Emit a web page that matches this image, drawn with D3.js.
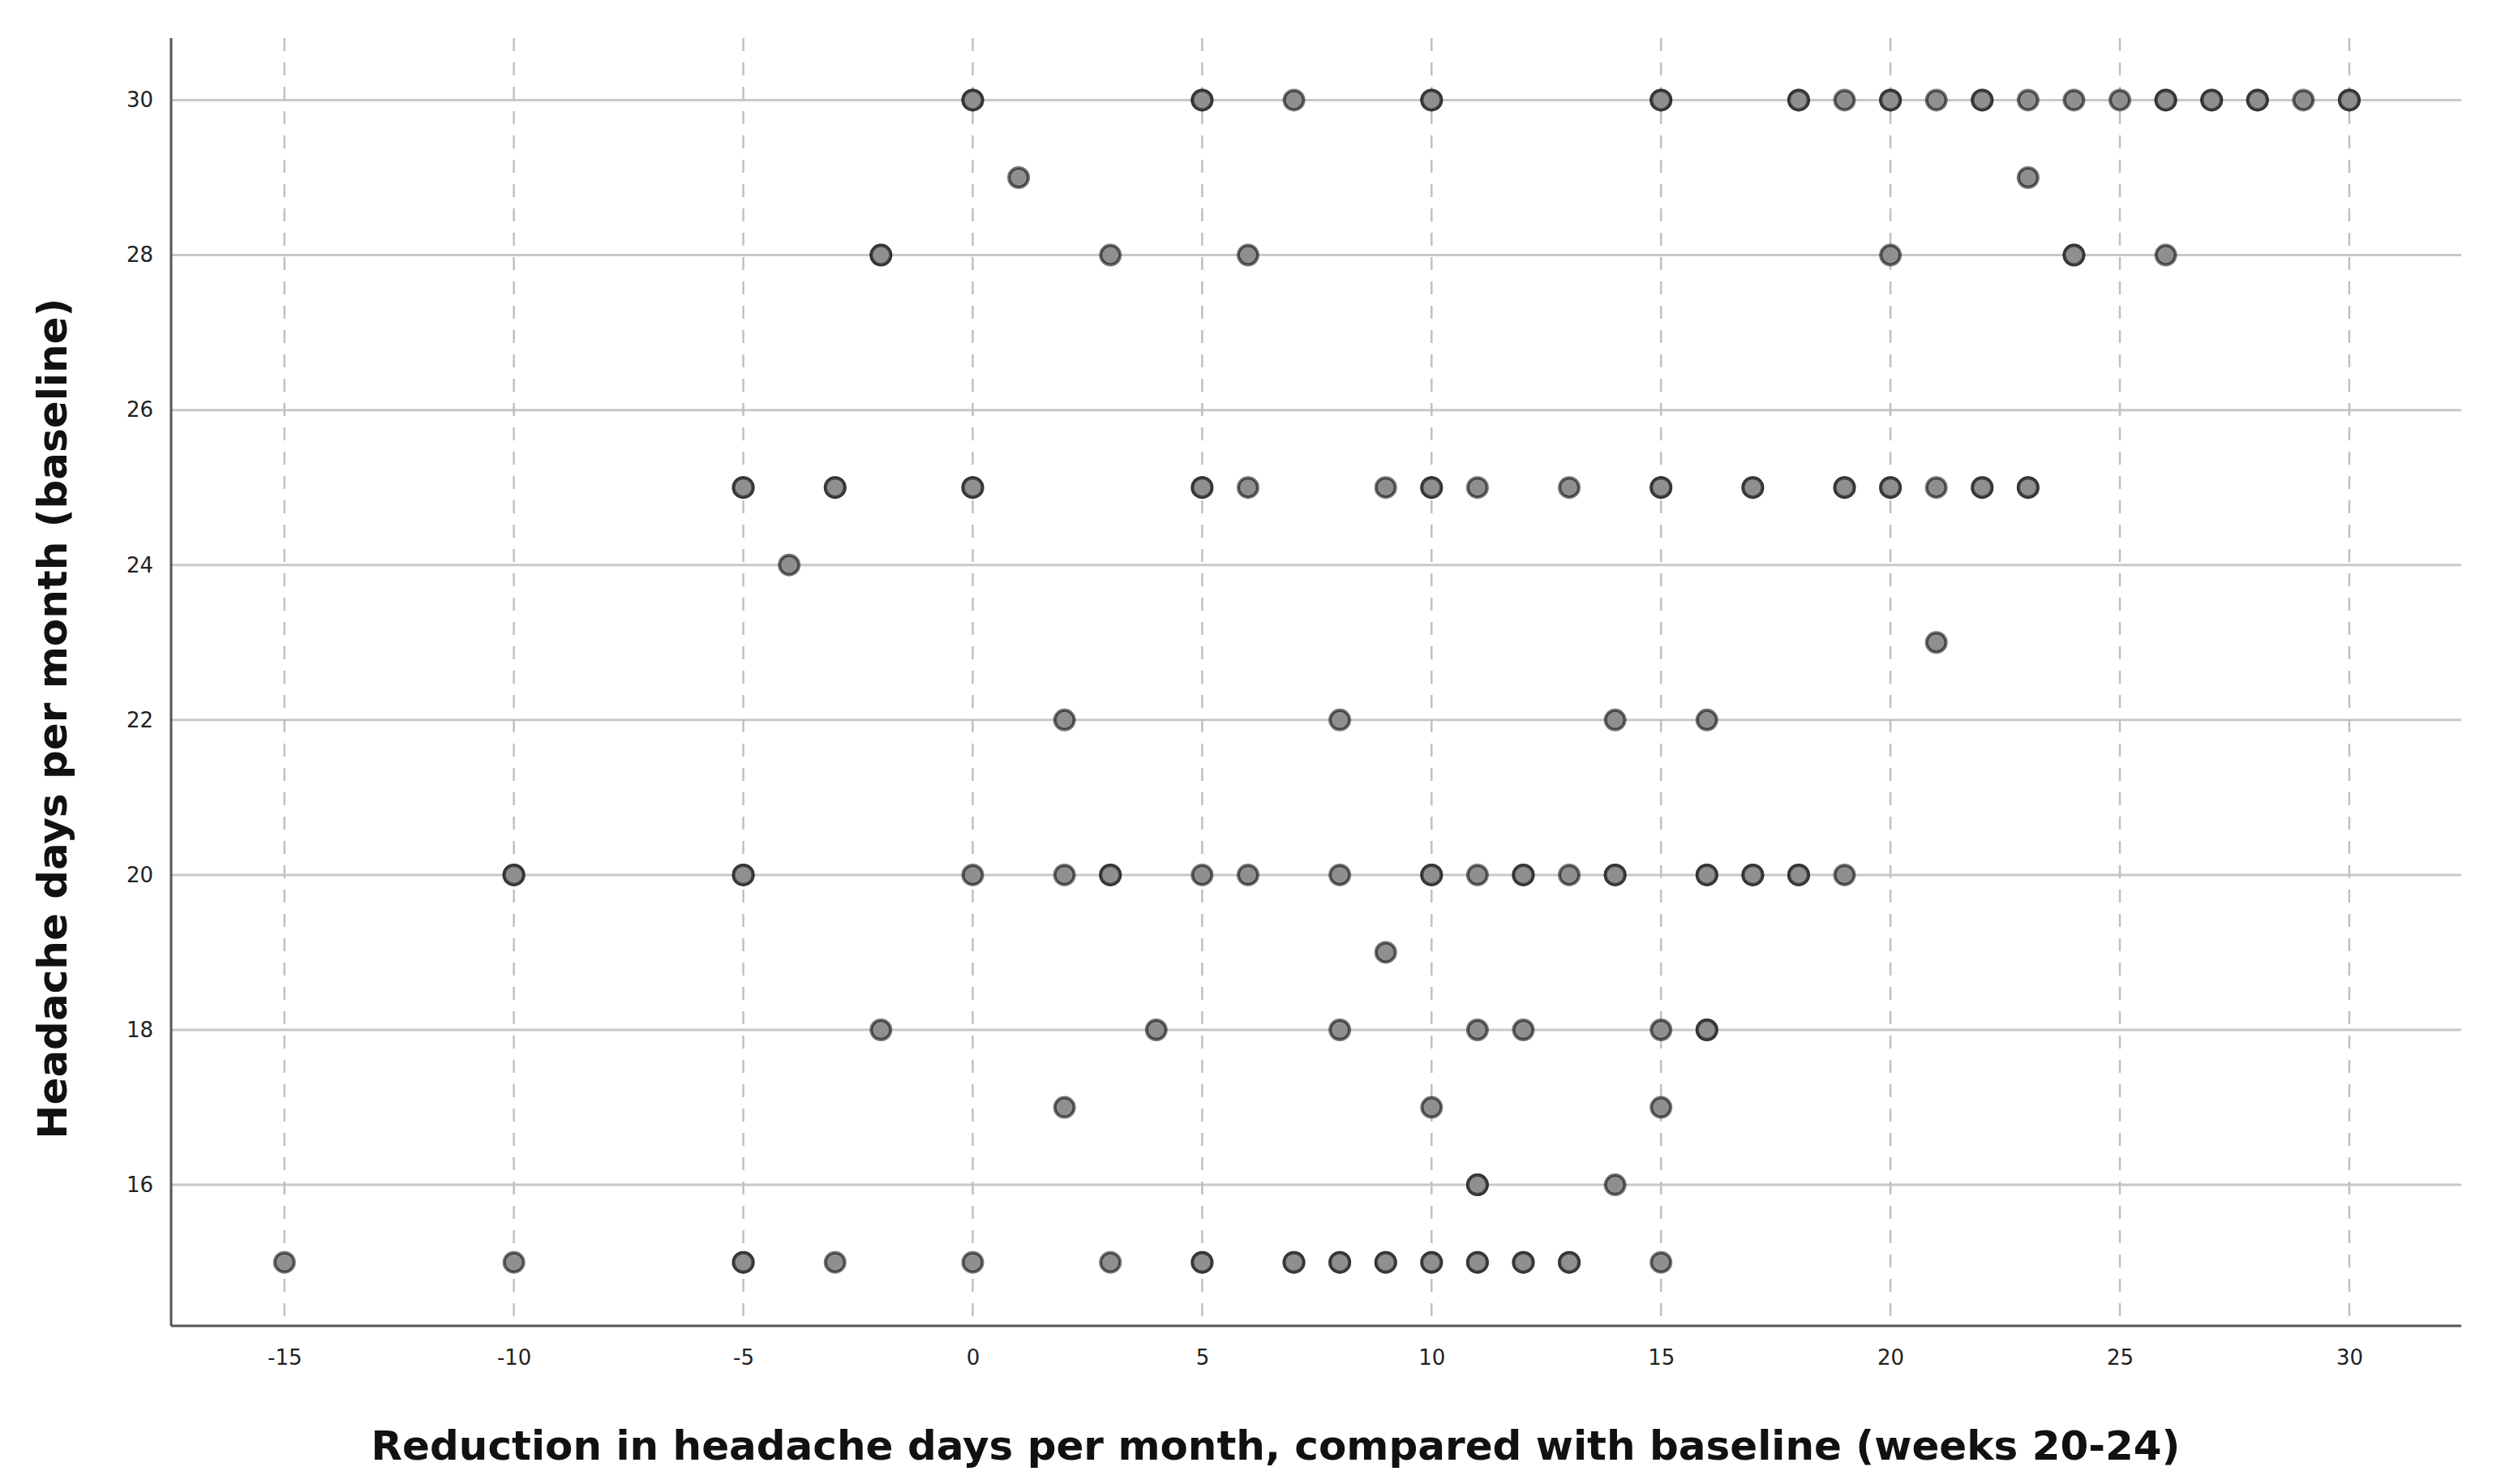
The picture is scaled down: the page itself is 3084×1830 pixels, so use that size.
<!DOCTYPE html>
<html>
<head>
<meta charset="utf-8">
<script src="https://cdn.jsdelivr.net/npm/d3@7"></script>
<style>
  body { margin: 0; background: #fff; }
  text { font-family: "DejaVu Sans", sans-serif; }
</style>
</head>
<body>
<svg id="chart"></svg>
<script>
// rows of baseline headache days, and reductions seen in each row (repeats = overlapping patients)
const rowValues = [30, 29, 28, 25, 24, 23, 22, 20, 19, 18, 17, 16, 15];
const rowReductions = [
  [0, 0, 5, 5, 7, 10, 10, 15, 15, 18, 18, 19, 20, 20, 21, 22, 22, 23, 24, 25, 26, 26, 27, 27, 28, 28, 29, 30, 30],
  [1, 23],
  [-2, -2, 3, 6, 20, 24, 24, 26],
  [-5, -5, -3, -3, 0, 0, 5, 5, 6, 9, 10, 10, 11, 13, 15, 15, 17, 17, 19, 19, 20, 20, 21, 22, 22, 23, 23],
  [-4],
  [21],
  [2, 8, 14, 16],
  [-10, -10, -5, -5, 0, 2, 3, 3, 5, 6, 8, 10, 10, 11, 12, 12, 13, 14, 14, 16, 16, 17, 17, 18, 18, 19],
  [9],
  [-2, 4, 8, 11, 12, 15, 16, 16],
  [2, 10, 15],
  [11, 11, 14],
  [-15, -10, -5, -5, -3, 0, 3, 5, 5, 7, 7, 8, 8, 9, 9, 10, 10, 11, 11, 12, 12, 13, 13, 15]
];
const xTicks = [-15, -10, -5, 0, 5, 10, 15, 20, 25, 30];
const yTicks = [16, 18, 20, 22, 24, 26, 28, 30];

const points = [];
rowValues.forEach((y, i) => rowReductions[i].forEach(x => points.push({ x: x, y: y })));

const width = 3084, height = 1830;
const margin = { left: 211, right: 3035, top: 47, bottom: 1635 };

const svg = d3.select('#chart').attr('width', width).attr('height', height);

const xscale = d3.scaleLinear().domain([-17.47, 32.44]).range([margin.left, margin.right]);
const yscale = d3.scaleLinear().domain([14.18, 30.8]).range([margin.bottom, margin.top]);

// horizontal gridlines
svg.append('g').selectAll('line').data(yTicks).enter().append('line')
  .attr('x1', margin.left).attr('x2', margin.right)
  .attr('y1', d => yscale(d)).attr('y2', d => yscale(d))
  .attr('stroke', '#c8c8c8').attr('stroke-width', 3);

// vertical dashed gridlines
svg.append('g').selectAll('line').data(xTicks).enter().append('line')
  .attr('x1', d => xscale(d)).attr('x2', d => xscale(d))
  .attr('y1', margin.top).attr('y2', margin.bottom)
  .attr('stroke', '#c0c0c0').attr('stroke-width', 2.5)
  .attr('stroke-dasharray', '16,14');

// axes
const xaxis = d3.axisBottom(xscale).tickValues(xTicks).tickSize(0).tickPadding(30)
  .tickFormat(d => d < 0 ? '-' + Math.abs(d) : d);
const yaxis = d3.axisLeft(yscale).tickValues(yTicks).tickSize(0).tickPadding(22);

const gx = svg.append('g').attr('transform', `translate(0, ${margin.bottom})`).call(xaxis);
const gy = svg.append('g').attr('transform', `translate(${margin.left}, 0)`).call(yaxis);
[gx, gy].forEach(g => {
  g.select('.domain').attr('stroke', '#555').attr('stroke-width', 3);
  g.selectAll('text').attr('font-size', 26).attr('fill', '#222');
});
gx.select('.domain').attr('d', `M${margin.left},0H${margin.right}`);
gy.select('.domain').attr('d', `M0,${margin.bottom}V${margin.top}`);

// points
svg.append('g').selectAll('circle').data(points).enter().append('circle')
  .attr('cx', d => xscale(d.x))
  .attr('cy', d => yscale(d.y))
  .attr('r', 12)
  .attr('fill', '#8f8f8f')
  .attr('stroke', '#000')
  .attr('stroke-opacity', 0.55)
  .attr('stroke-width', 4);

// titles
svg.append('text')
  .attr('x', (margin.left + margin.right) / 2 - 50).attr('y', 1800)
  .attr('text-anchor', 'middle')
  .attr('font-size', 50).attr('font-weight', 'bold').attr('fill', '#111')
  .text('Reduction in headache days per month, compared with baseline (weeks 20-24)');

svg.append('text')
  .attr('transform', `translate(82, ${(margin.top + margin.bottom) / 2 + 45}) rotate(-90)`)
  .attr('text-anchor', 'middle')
  .attr('font-size', 50).attr('font-weight', 'bold').attr('fill', '#111')
  .text('Headache days per month (baseline)');
</script>
</body>
</html>
